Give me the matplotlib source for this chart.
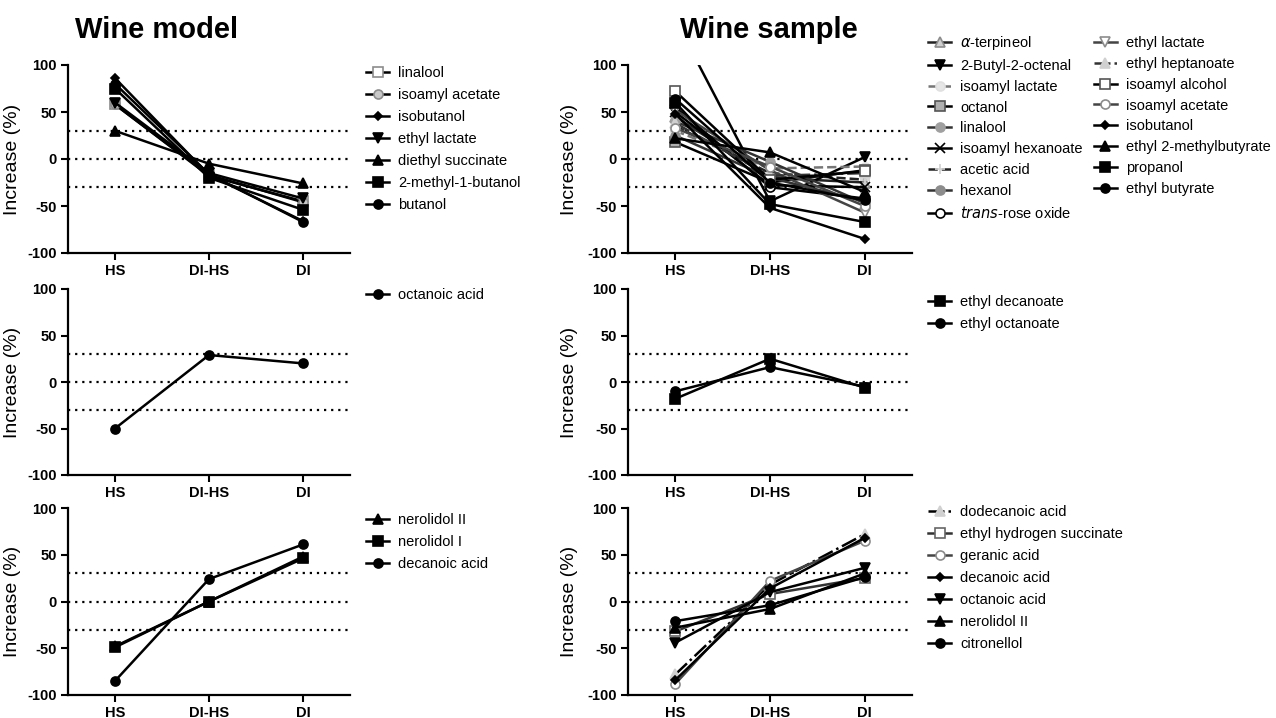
import numpy as np
import matplotlib
matplotlib.use('Agg')
import matplotlib.pyplot as plt

plt.rcParams['font.family'] = ['Liberation Sans', 'DejaVu Sans']

cats = ['HS', 'DI-HS', 'DI']

# Wine model panels
model_top_names = ['linalool', 'isoamyl acetate', 'isobutanol', 'ethyl lactate',
                   'diethyl succinate', '2-methyl-1-butanol', 'butanol']
model_top_vals = [[58, -18, -45], [58, -17, -46], [86, -17, -66], [60, -15, -42],
                  [30, -5, -26], [75, -20, -54], [80, -16, -67]]
model_mid_names = ['octanoic acid']
model_mid_vals = [[-50, 29, 20]]
model_bot_names = ['nerolidol II', 'nerolidol I', 'decanoic acid']
model_bot_vals = [[-48, 0, 48], [-49, 0, 46], [-85, 24, 61]]

# Wine sample panels
sample_top_names = ['$\\alpha$-terpineol', '2-Butyl-2-octenal', 'isoamyl lactate', 'octanol',
                    'linalool', 'isoamyl hexanoate', 'acetic acid', 'hexanol',
                    '$\\it{trans}$-rose oxide', 'ethyl lactate', 'ethyl heptanoate',
                    'isoamyl alcohol', 'isoamyl acetate', 'isobutanol',
                    'ethyl 2-methylbutyrate', 'propanol', 'ethyl butyrate']
sample_top_vals = [[45, -20, -25], [148, -45, 2], [30, -10, -8], [18, -25, -12],
                   [40, -3, -47], [50, -28, -30], [35, -15, -22], [25, -20, -45],
                   [55, -30, -42], [52, -12, -57], [38, -18, -15], [72, -22, -13],
                   [33, -8, -50], [48, -52, -85], [22, 7, -35], [60, -48, -67],
                   [64, -25, -44]]
sample_mid_names = ['ethyl decanoate', 'ethyl octanoate']
sample_mid_vals = [[-18, 25, -6], [-10, 16, -5]]
sample_bot_names = ['dodecanoic acid', 'ethyl hydrogen succinate', 'geranic acid',
                    'decanoic acid', 'octanoic acid', 'nerolidol II', 'citronellol']
sample_bot_vals = [[-78, 18, 72], [-32, 8, 25], [-88, 22, 65], [-84, 14, 68],
                   [-44, 10, 36], [-28, -8, 30], [-21, -4, 26]]

# marker styles: (marker, facecolor, edgecolor, linecolor, linestyle)
G = '#8c8c8c'
L = '#d0d0d0'
style = {
    'linalool': ('s', 'white', G, 'k', '-'),
    'isoamyl acetate': ('o', '#c8c8c8', G, 'k', '-'),
    'isobutanol': ('D', 'k', 'k', 'k', '-'),
    'ethyl lactate': ('v', 'k', 'k', 'k', '-'),
    'diethyl succinate': ('^', 'k', 'k', 'k', '-'),
    '2-methyl-1-butanol': ('s', 'k', 'k', 'k', '-'),
    'butanol': ('o', 'k', 'k', 'k', '-'),
    'octanoic acid': ('o', 'k', 'k', 'k', '-'),
    'nerolidol II': ('^', 'k', 'k', 'k', '-'),
    'nerolidol I': ('s', 'k', 'k', 'k', '-'),
    'decanoic acid': ('o', 'k', 'k', 'k', '-'),
    'ethyl decanoate': ('s', 'k', 'k', 'k', '-'),
    'ethyl octanoate': ('o', 'k', 'k', 'k', '-'),
}
sample_top_style = [
    ('^', L, G, '#222222', '-'), ('v', 'k', 'k', 'k', '-'), ('o', '#e6e6e6', '#e0e0e0', '#777777', '--'),
    ('s', '#b0b0b0', '#555555', 'k', '-'), ('o', '#a0a0a0', '#a0a0a0', '#333333', '-'),
    ('x', 'k', 'k', 'k', '-'), ('+', L, L, '#222222', '--'), ('o', G, G, '#333333', '-'),
    ('o', 'white', 'k', 'k', '-'), ('v', 'white', G, '#444444', '-'), ('^', L, L, '#333333', '-.'),
    ('s', 'white', '#555555', 'k', '-'), ('o', 'white', G, '#444444', '-'),
    ('D', 'k', 'k', 'k', '-'), ('^', 'k', 'k', 'k', '-'), ('s', 'k', 'k', 'k', '-'),
    ('o', 'k', 'k', 'k', '-')]
sample_bot_style = [
    ('^', L, L, 'k', '-.'), ('s', 'white', '#666666', '#333333', '-'), ('o', 'white', G, '#444444', '-'),
    ('D', 'k', 'k', 'k', '-'), ('v', 'k', 'k', 'k', '-'), ('^', 'k', 'k', 'k', '-'),
    ('o', 'k', 'k', 'k', '-')]

fig = plt.figure(figsize=(12.76, 7.18), dpi=100)

W, H = 1276.0, 718.0
cols = [(68, 282), (628, 284)]
rows = [(65, 253), (289, 475), (508, 695)]


def make_ax(col, row):
    x0, w = cols[col]
    t, b = rows[row]
    ax = fig.add_axes([x0 / W, 1 - b / H, w / W, (b - t) / H])
    ax.set_xlim(-0.5, 2.5)
    ax.set_ylim(-100, 100)
    for s in ['top', 'right']:
        ax.spines[s].set_visible(False)
    for s in ['left', 'bottom']:
        ax.spines[s].set_linewidth(1.6)
    ax.set_xticks(range(3))
    ax.set_xticklabels(cats, fontweight='bold', fontsize=10.5)
    ax.set_yticks([-100, -50, 0, 50, 100])
    ax.set_yticklabels(['-100', '-50', '0', '50', '100'], fontweight='bold', fontsize=10.5)
    ax.tick_params(direction='out', length=5, width=1.5, pad=3)
    for yv in [30, 0, -30]:
        ax.axhline(yv, color='k', ls=(0, (1, 2.2)), lw=1.6, zorder=1)
    ax.set_ylabel('Increase (%)', fontsize=14)
    ax.yaxis.set_label_coords(-0.165 if col == 0 else -0.175, 0.5)
    return ax


def draw(ax, names, vals, styles, leg_x, leg_y, ncol=1, spacing=0.55):
    for name, v, st in zip(names, vals, styles):
        mk, fc, ec, lc, ls = st
        ms = 4.5 if mk == 'D' else 6.5
        ax.plot(range(3), v, color=lc, ls=ls, lw=1.8, marker=mk, ms=ms,
                mfc=fc, mec=ec, mew=1.2, label=name, zorder=3)
    ax.legend(loc='upper left', bbox_to_anchor=(leg_x / W, 1 - leg_y / H),
              bbox_transform=fig.transFigure, frameon=False, fontsize=10.5,
              handlelength=1.6, handletextpad=0.6, labelspacing=spacing,
              borderaxespad=0, borderpad=0, ncol=ncol, columnspacing=0.75)


ax = make_ax(0, 0)
draw(ax, model_top_names, model_top_vals, [style[n] for n in model_top_names], 366, 66)
ax = make_ax(0, 1)
draw(ax, model_mid_names, model_mid_vals, [style[n] for n in model_mid_names], 366, 288)
ax = make_ax(0, 2)
draw(ax, model_bot_names, model_bot_vals, [style[n] for n in model_bot_names], 366, 513)
ax = make_ax(1, 0)
draw(ax, sample_top_names, sample_top_vals, sample_top_style, 928, 34, ncol=2, spacing=0.47)
ax = make_ax(1, 1)
draw(ax, sample_mid_names, sample_mid_vals, [style[n] for n in sample_mid_names], 928, 295)
ax = make_ax(1, 2)
draw(ax, sample_bot_names, sample_bot_vals, sample_bot_style, 928, 505)

fig.text(75 / W, 1 - 30 / H, 'Wine model', fontsize=21, fontweight='bold', va='center')
fig.text(680 / W, 1 - 30 / H, 'Wine sample', fontsize=21, fontweight='bold', va='center')

fig.savefig('out.png', dpi=100)
